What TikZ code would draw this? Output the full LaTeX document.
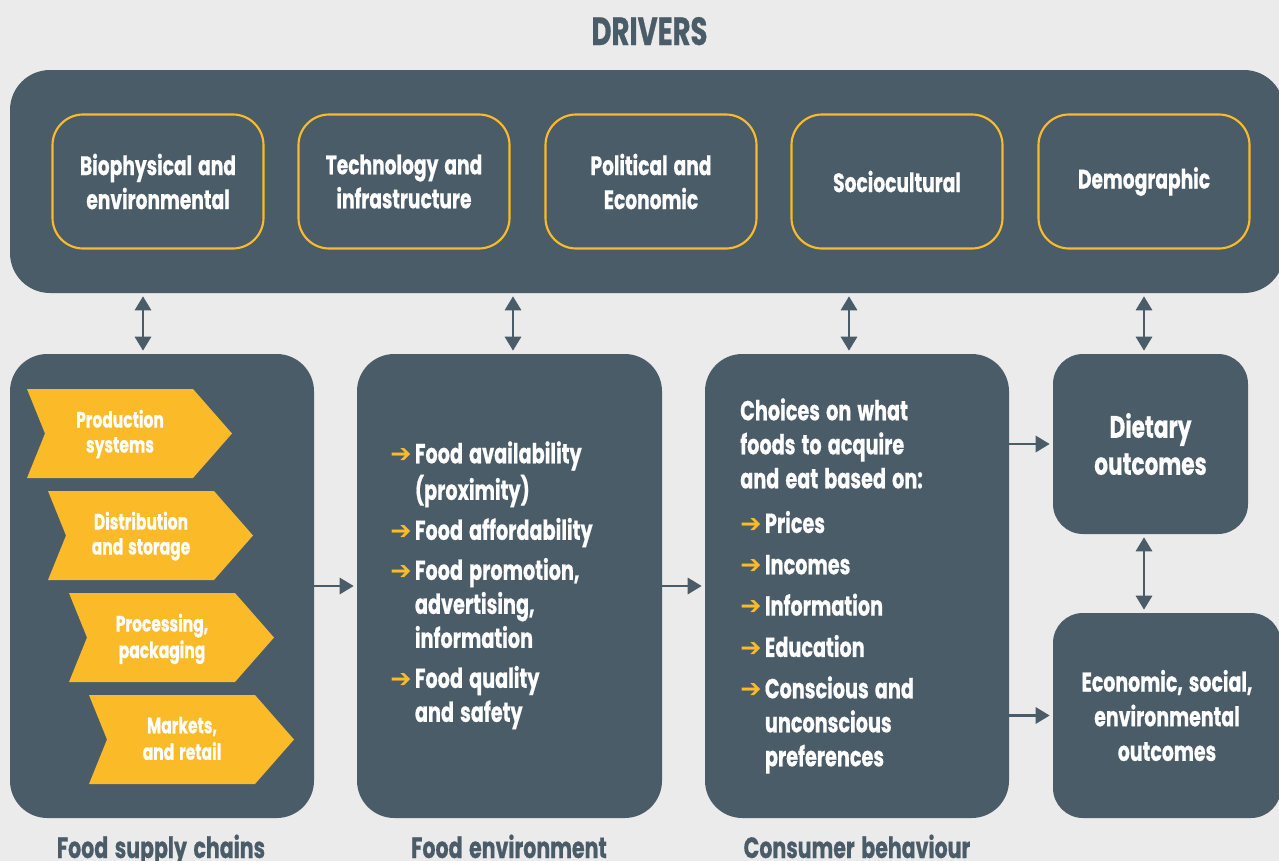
\documentclass[tikz,border=0pt]{standalone}
\usepackage{fontspec}
\setmainfont{Poppins}[FakeStretch=0.7, FakeBold=0.6, WordSpace=1.5]
\newfontfamily\djv{DejaVu Sans}
\usetikzlibrary{arrows.meta}
\definecolor{bg}{RGB}{235,235,235}
\definecolor{dk}{RGB}{75,92,105}
\definecolor{yl}{RGB}{251,186,40}
\newcommand{\fsz}[2]{\fontsize{#1}{#2}\selectfont\bfseries}
\newcommand{\bul}{\makebox[18.5pt][l]{\raisebox{0.6pt}{\textcolor{yl}{\fontsize{19pt}{19pt}\djv ➔}}}}
\newcommand{\ind}{\hspace*{18.5pt}}
\begin{document}
\begin{tikzpicture}[x=0.75pt,y=-0.75pt,
  sz/.style 2 args={minimum width=#1*0.75pt, minimum height=#2*0.75pt},
  box/.style={fill=dk, rounded corners=28pt, inner sep=0pt, text=white, align=center},
  drv/.style={draw=yl, line width=1.6pt, rounded corners=23pt, inner sep=0pt, sz={211}{134},
     text=white, align=center, font=\fsz{20pt}{25.5pt}},
  chtext/.style={text=white, align=center, inner sep=0pt, font=\fsz{16.6pt}{18.75pt}},
  lst/.style={text=white, align=left, inner sep=0pt, font=\fsz{20.6pt}{25.5pt}},
  lbl/.style={text=dk, inner sep=0pt, font=\fsz{22pt}{28pt}},
  arr/.style={draw=dk, line width=2.2pt, -{Triangle[length=10.5pt,width=12pt]}, shorten >=2.25pt},
  darr/.style={draw=dk, line width=2.2pt, {Triangle[length=10.5pt,width=12pt]}-{Triangle[length=10.5pt,width=12pt]}, shorten >=2.25pt, shorten <=2.25pt}
]
\useasboundingbox (0,0) rectangle (1279,861);
\clip (0,0) rectangle (1279,861);
\fill[bg] (0,0) rectangle (1279,861);

% title
\node[lbl, anchor=base, font=\fsz{29.5pt}{34pt}] (title) at (649.5,45) {DRIVERS};

% drivers
\node[box, rounded corners=30pt, sz={1274}{223}] (T) at (647,181.5) {};
\node[drv] (d1) at (158,181.5) {Biophysical and\\environmental};
\node[drv] (d2) at (404,181.5) {Technology and\\infrastructure};
\node[drv] (d3) at (651,181.5) {Political and\\Economic};
\node[drv] (d4) at (897,181.5) {Sociocultural};
\node[drv] (d5) at (1144,181.5) {Demographic};

% lower boxes
\node[box, sz={304}{464}] (A) at (162,586) {};
\node[box, sz={305}{464}] (B) at (509.5,586) {};
\node[box, sz={304}{464}] (C) at (857,586) {};
\node[box, rounded corners=22.5pt, sz={195}{180}, font=\fsz{23.2pt}{27.75pt}] (D) at (1150.5,444) {Dietary\\outcomes};
\node[box, rounded corners=22.5pt, sz={228}{205}, font=\fsz{20.3pt}{26pt}] (E) at (1167,715.5) {Economic, social,\\environmental\\outcomes};

% chevrons
\foreach \L/\Y/\t [count=\i] in {27/389/{Production\\systems}, 48/491/{Distribution\\and storage}, 69/593/{Processing,\\packaging}, 89/695/{Markets,\\and retail}}{
  \fill[yl] (\L,\Y) -- ++(166,0) -- ++(39,44.5) -- ++(-39,44.5) -- ++(-166,0) -- ++(18,-44.5) -- cycle;
  \node[chtext, anchor=north] (ch\i) at (\L+93,\Y+38-17.5) {\strut\t};
}

% lists
\node[lst, anchor=north west] (fe) at (390,463-23.8) {\strut\bul Food availability\\
  \ind(proximity)\\[4.5pt]
  \bul Food affordability\\[4.5pt]
  \bul Food promotion,\\
  \ind advertising,\\
  \ind information\\[4.5pt]
  \bul Food quality\\
  \ind and safety};
\node[lst, anchor=north west] (cb) at (740,420-23.8) {\strut Choices on what\\
  foods to acquire\\
  and eat based on:\\[8pt]
  \bul Prices\\[5.5pt]
  \bul Incomes\\[5.5pt]
  \bul Information\\[5.5pt]
  \bul Education\\[5.5pt]
  \bul Conscious and\\
  \ind unconscious\\
  \ind preferences};

% bottom labels
\node[lbl, anchor=base] (l1) at (161,858) {Food supply chains};
\node[lbl, anchor=base] (l2) at (509,858) {Food environment};
\node[lbl, anchor=base] (l3) at (857,858) {Consumer behaviour};

% connectors
\coordinate (k1) at (143,0);
\coordinate (k2) at (513,0);
\coordinate (k3) at (849,0);
\coordinate (k4) at (1144,0);
\draw[darr] (T.south -| k1) -- (A.north -| k1);
\draw[darr] (T.south -| k2) -- (B.north -| k2);
\draw[darr] (T.south -| k3) -- (C.north -| k3);
\draw[darr] (T.south -| k4) -- (D.north -| k4);
\draw[darr] (D.south -| k4) -- (E.north -| k4);
\draw[arr] (A.east) -- (B.west);
\draw[arr] (B.east) -- (C.west);
\draw[arr] (C.east |- D.west) -- (D.west);
\draw[arr] (C.east |- E.west) -- (E.west);
\end{tikzpicture}
\end{document}
